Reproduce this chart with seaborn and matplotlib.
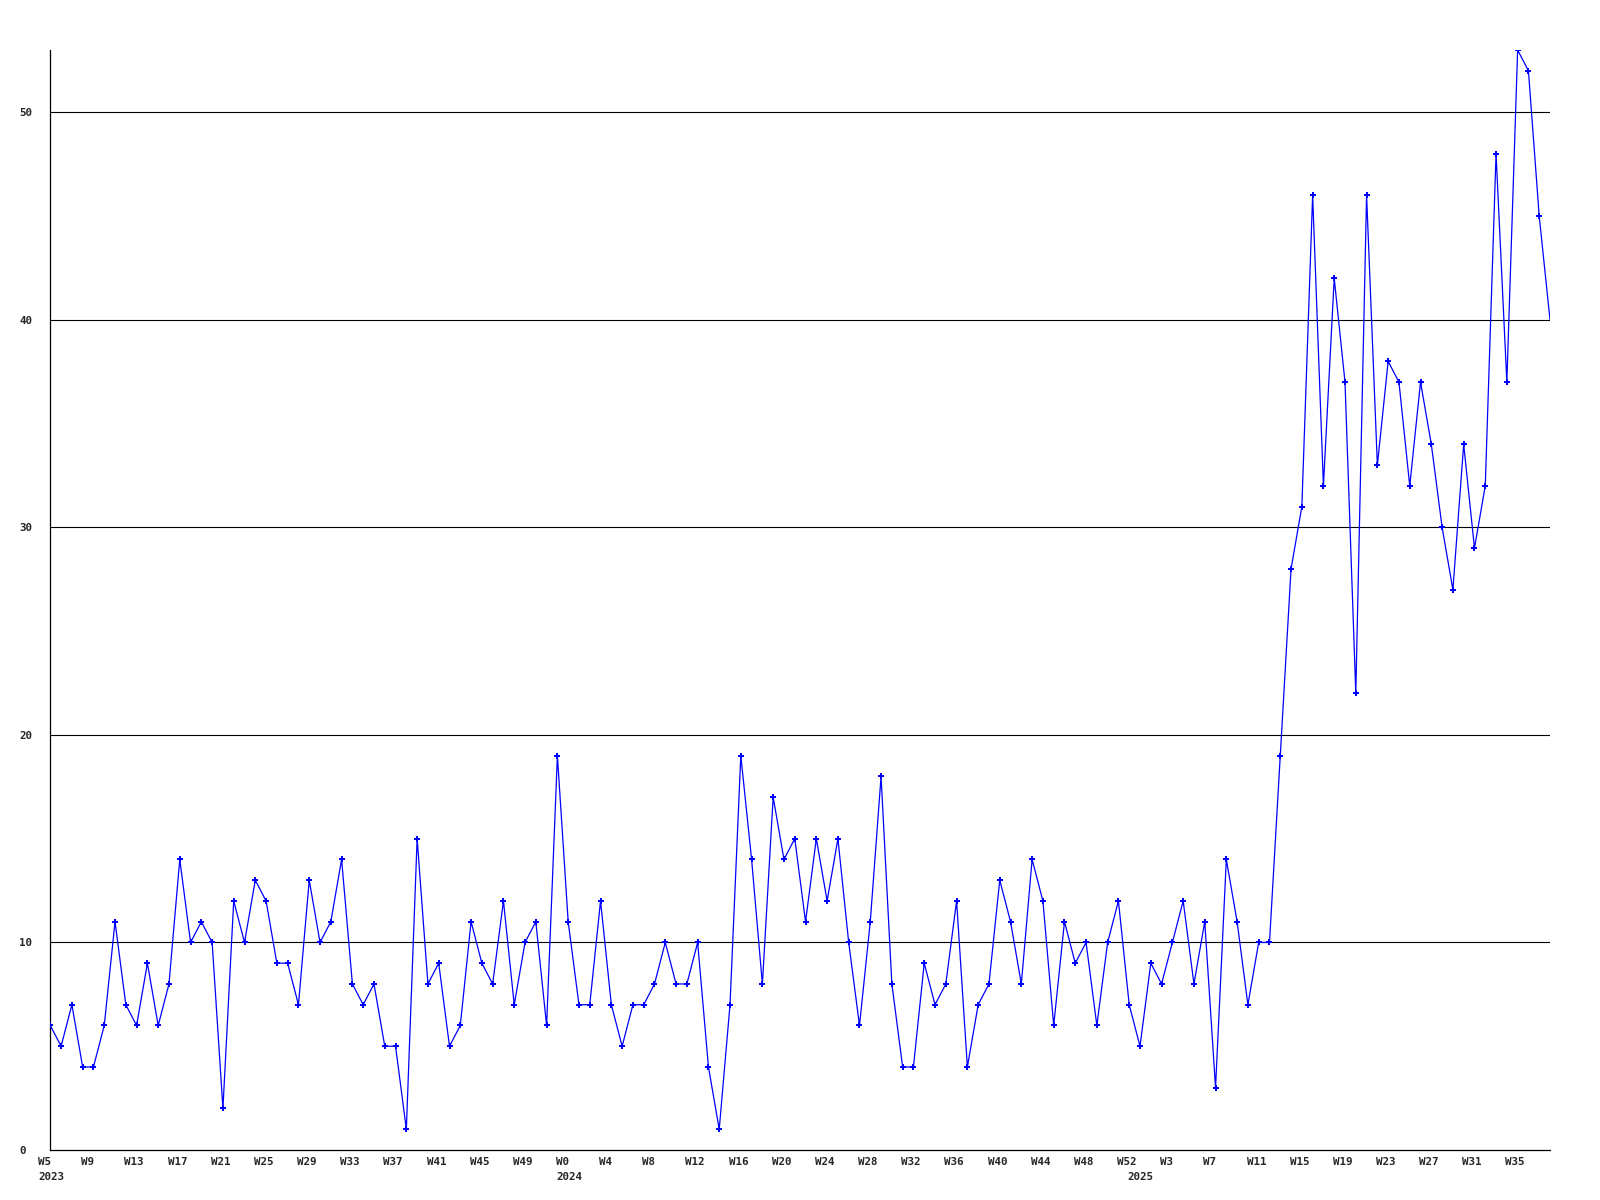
import numpy as np
import pandas as pd
import matplotlib
matplotlib.use("Agg")
import matplotlib.pyplot as plt
import matplotlib.transforms as mtransforms
import seaborn as sns

# weekly counts, first point is W6 2023
counts = [
    6, 5, 7, 4, 4, 6, 11, 7, 6, 9,
    6, 8, 14, 10, 11, 10, 2, 12, 10, 13,
    12, 9, 9, 7, 13, 10, 11, 14, 8, 7,
    8, 5, 5, 1, 15, 8, 9, 5, 6, 11,
    9, 8, 12, 7, 10, 11, 6, 19, 11, 7,
    7, 12, 7, 5, 7, 7, 8, 10, 8, 8,
    10, 4, 1, 7, 19, 14, 8, 17, 14, 15,
    11, 15, 12, 15, 10, 6, 11, 18, 8, 4,
    4, 9, 7, 8, 12, 4, 7, 8, 13, 11,
    8, 14, 12, 6, 11, 9, 10, 6, 10, 12,
    7, 5, 9, 8, 10, 12, 8, 11, 3, 14,
    11, 7, 10, 10, 19, 28, 31, 46, 32, 42,
    37, 22, 46, 33, 38, 37, 32, 37, 34, 30,
    27, 34, 29, 32, 48, 37, 53, 52, 45, 40,
]

# x labels every 4 weeks, the first one sits one week before the first point
week_ticks = [
    "W5", "W9", "W13", "W17", "W21", "W25", "W29", "W33", "W37", "W41", "W45", "W49",
    "W0", "W4", "W8", "W12", "W16", "W20", "W24", "W28", "W32", "W36", "W40", "W44", "W48", "W52",
    "W3", "W7", "W11", "W15", "W19", "W23", "W27", "W31", "W35",
]
years = ["2023", "2024", "2025"]
weeks_per_year = [47, 53, 40]  # points falling in each year

y_ticks = [0, 10, 20, 30, 40, 50]

df = pd.DataFrame({"idx": np.arange(len(counts)), "count": counts})

sns.set_style("white")
plt.rcParams["font.family"] = ["DejaVu Sans Mono", "DejaVu Sans"]

fig = plt.figure(figsize=(16, 12), dpi=100)
ax = fig.add_axes([50.3 / 1600, 50 / 1200, (1550 - 50.3) / 1600, 1100 / 1200])

for v in y_ticks[1:]:
    ax.axhline(v, color="black", lw=0.8, zorder=1)

# last (current, incomplete) week is drawn without a marker
sns.lineplot(data=df, x="idx", y="count", ax=ax, color="#0000ff", lw=0.9,
             marker="P", markersize=4.5, markeredgewidth=0,
             markevery=list(range(len(counts) - 1)), zorder=3)

ax.set_xlim(0, len(counts) - 1)
ax.set_ylim(0, max(counts))
ax.set_xlabel("")
ax.set_ylabel("")
ax.set_xticks([])
ax.set_yticks(y_ticks)
ax.set_yticklabels([str(v) for v in y_ticks], fontsize=7.8, fontweight="bold", ha="left")
ax.tick_params(axis="y", length=0, pad=22.5)

for side in ["top", "right"]:
    ax.spines[side].set_visible(False)
for side in ["left", "bottom"]:
    ax.spines[side].set_color("black")
    ax.spines[side].set_linewidth(0.9)

trans = mtransforms.blended_transform_factory(ax.transData, ax.transAxes)
tick_pos = np.arange(len(week_ticks)) * 4 - 1
for pos, lab in zip(tick_pos, week_ticks):
    ax.annotate(lab, xy=(pos, 0), xycoords=trans, xytext=(-1, -5),
                textcoords="offset points", ha="left", va="top",
                fontsize=7.8, fontweight="bold", annotation_clip=False)

year_pos = np.concatenate([[0], np.cumsum(weeks_per_year)[:-1]])
year_pos[0] = tick_pos[0]
for pos, lab in zip(year_pos, years):
    ax.annotate(lab, xy=(pos, 0), xycoords=trans, xytext=(-1, -16),
                textcoords="offset points", ha="left", va="top",
                fontsize=7.8, fontweight="bold", annotation_clip=False)

fig.savefig("out.png", dpi=100, facecolor="white")
